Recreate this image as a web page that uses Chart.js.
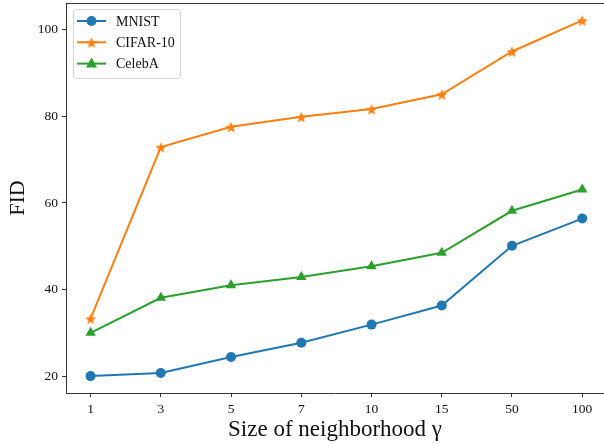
<!DOCTYPE html>
<html>
<head>
<meta charset="utf-8">
<script src="https://cdn.jsdelivr.net/npm/chart.js@4/dist/chart.umd.min.js"></script>
<style>
  html, body { margin: 0; padding: 0; background: #fff; }
  #grafico { display: block; }
</style>
</head>
<body>
<canvas id="grafico" width="604" height="444"></canvas>
<script>
// datos
const categorias = ['1', '3', '5', '7', '10', '15', '50', '100'];
const mnist = [20.0, 20.7, 24.4, 27.7, 31.9, 36.3, 50.1, 56.4];
const cifar10 = [33.3, 72.9, 77.6, 79.9, 81.7, 85.1, 95.0, 102.2];
const celeba = [30.0, 38.1, 41.0, 42.9, 45.4, 48.5, 58.2, 63.1];
const ticksY = [20, 40, 60, 80, 100];

const azul = '#1f77b4';
const naranja = '#ff7f0e';
const verde = '#2ca02c';
const fuente = "'Liberation Serif', 'DejaVu Serif', serif";

// estrella rellena tipo matplotlib
function crearEstrella(color, r) {
    const c = document.createElement('canvas');
    const s = Math.ceil(r * 2 + 2);
    c.width = s; c.height = s;
    const g = c.getContext('2d');
    g.translate(s / 2, s / 2 + 0.8);
    g.beginPath();
    for (let i = 0; i < 10; i++) {
        const rad = i % 2 === 0 ? r : r * 0.42;
        const a = -Math.PI / 2 + i * Math.PI / 5;
        const px = rad * Math.cos(a), py = rad * Math.sin(a);
        if (i === 0) g.moveTo(px, py); else g.lineTo(px, py);
    }
    g.closePath();
    g.fillStyle = color;
    g.fill();
    return c;
}
const estrella = crearEstrella(naranja, 6);

const puntos = arr => arr.map((v, i) => ({ x: i, y: v }));

// sin relleno extra de las etiquetas
const sinPadding = s => {
    s.paddingTop = 0; s.paddingBottom = 0;
    s.paddingLeft = 0; s.paddingRight = 0;
};

// leyenda dentro del área, con marco
const leyenda = {
    id: 'leyenda',
    afterDraw(chart) {
        const ctx = chart.ctx;
        const area = chart.chartArea;
        ctx.save();
        // marco superior (el derecho queda fuera de la imagen)
        ctx.strokeStyle = '#333';
        ctx.lineWidth = 1;
        ctx.beginPath();
        ctx.moveTo(area.left, area.top + 0.5);
        ctx.lineTo(area.right, area.top + 0.5);
        ctx.stroke();

        const x0 = 73, y0 = 9, w = 107, h = 69;
        ctx.beginPath();
        ctx.roundRect(x0 + 0.5, y0 + 0.5, w, h, 3);
        ctx.fillStyle = 'rgba(255,255,255,0.8)';
        ctx.fill();
        ctx.strokeStyle = '#d4d4d4';
        ctx.stroke();

        const items = [
            { t: 'MNIST', c: azul, m: 'circle' },
            { t: 'CIFAR-10', c: naranja, m: 'star' },
            { t: 'CelebA', c: verde, m: 'triangle' }
        ];
        items.forEach((it, i) => {
            const y = 21 + i * 21.3;
            ctx.strokeStyle = it.c;
            ctx.lineWidth = 2;
            ctx.beginPath();
            ctx.moveTo(77, y);
            ctx.lineTo(106, y);
            ctx.stroke();
            ctx.fillStyle = it.c;
            if (it.m === 'circle') {
                ctx.beginPath();
                ctx.arc(91.5, y, 5, 0, Math.PI * 2);
                ctx.fill();
            } else if (it.m === 'star') {
                ctx.drawImage(estrella, 91.5 - estrella.width / 2, y - estrella.height / 2);
            } else {
                ctx.beginPath();
                ctx.moveTo(91.5, y - 6);
                ctx.lineTo(97, y + 4);
                ctx.lineTo(86, y + 4);
                ctx.closePath();
                ctx.fill();
            }
            ctx.fillStyle = '#111';
            ctx.font = "14px " + fuente;
            ctx.textBaseline = 'middle';
            ctx.fillText(it.t, 116, y + 1);
        });
        ctx.restore();
    }
};

new Chart(document.getElementById('grafico').getContext('2d'), {
    type: 'line',
    data: {
        datasets: [
            {
                label: 'MNIST', data: puntos(mnist),
                borderColor: azul, backgroundColor: azul, borderWidth: 2,
                pointStyle: 'circle', pointRadius: 5, pointBorderWidth: 0
            },
            {
                label: 'CIFAR-10', data: puntos(cifar10),
                borderColor: naranja, backgroundColor: naranja, borderWidth: 2,
                pointStyle: estrella, pointRadius: 6
            },
            {
                label: 'CelebA', data: puntos(celeba),
                borderColor: verde, backgroundColor: verde, borderWidth: 2,
                pointStyle: 'triangle', pointRadius: 6, pointBorderWidth: 0
            }
        ]
    },
    options: {
        responsive: false,
        animation: false,
        layout: { autoPadding: false, padding: { top: 3, right: 0, left: 0, bottom: 0 } },
        plugins: {
            legend: { display: false },
            tooltip: { enabled: false }
        },
        scales: {
            x: {
                type: 'linear',
                min: -0.35, max: 7.31,
                afterFit: s => { s.height = 51; sinPadding(s); },
                border: { color: '#333', width: 1 },
                grid: { drawOnChartArea: false, tickLength: 4, color: '#333' },
                ticks: {
                    stepSize: 1, includeBounds: false, autoSkip: false,
                    color: '#111', padding: 4,
                    font: { family: fuente, size: 13.5 },
                    callback: v => categorias[v]
                },
                afterBuildTicks: s => { s.ticks = categorias.map((c, i) => ({ value: i })); },
                title: {
                    display: true, text: 'Size of neighborhood γ', color: '#111',
                    font: { family: fuente, size: 23 }, padding: { top: 1, bottom: 0 }
                }
            },
            y: {
                min: 16.1, max: 106.2,
                afterFit: s => { s.width = 66; sinPadding(s); },
                afterBuildTicks: s => { s.ticks = ticksY.map(v => ({ value: v })); },
                border: { color: '#333', width: 1 },
                grid: { drawOnChartArea: false, tickLength: 4, color: '#333' },
                ticks: {
                    color: '#111', padding: 4,
                    font: { family: fuente, size: 13.5 }
                },
                title: {
                    display: true, text: 'FID', color: '#111',
                    font: { family: fuente, size: 22 }, padding: { top: 5, bottom: 0 }
                }
            }
        }
    },
    plugins: [leyenda]
});
</script>
</body>
</html>
